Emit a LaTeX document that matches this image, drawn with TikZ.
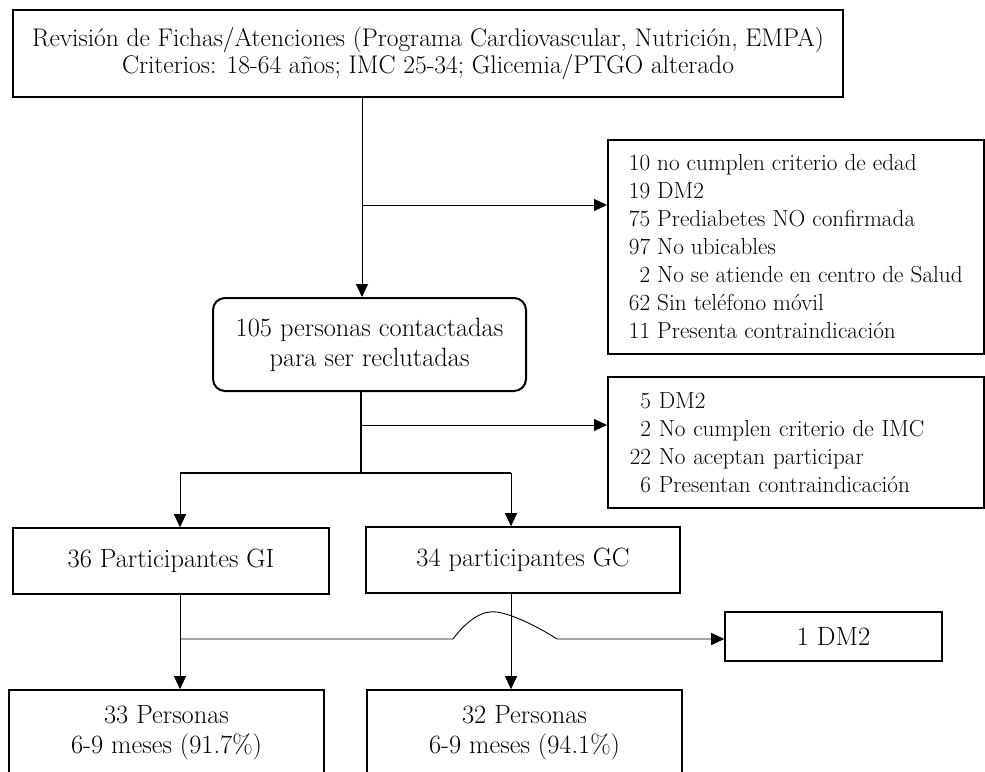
\documentclass[tikz,border=0pt]{standalone}
\usepackage{fontspec}
\usetikzlibrary{arrows.meta}
% font sizes (1pt = 1px of the figure)
\newcommand{\fsTop}{\fontsize{25.5}{27}\selectfont}
\newcommand{\fsLista}{\fontsize{23.2}{28}\selectfont}
\newcommand{\fsCaja}{\fontsize{26.4}{30}\selectfont}

\begin{document}
\begin{tikzpicture}[x=1pt,y=-1pt,
  caja/.style={draw,line width=1.6pt,inner sep=0pt,align=center,font=\fsCaja},
  lista/.style={draw,line width=1.6pt,inner ysep=0pt,inner xsep=22pt,align=left,anchor=north west,font=\fsLista},
  flecha/.style={-{Triangle[length=13pt,width=12pt]},line width=0.9pt},
  tallo/.style={line width=1.8pt}]
	% --- Page ---
	\useasboundingbox (0,0) rectangle (985,771);
	\clip (0,0) rectangle (985,771);
	% --- Boxes ---
	\node[caja,font=\fsTop,minimum width=830pt,minimum height=87pt] (fichas) at (428,53.5)
		{Revisión de Fichas/Atenciones (Programa Cardiovascular, Nutrición, EMPA)\\Criterios: 18-64 años; IMC 25-34; Glicemia/PTGO alterado};
	% list box: text block centred, lines flush left
	\node[lista,inner xsep=0pt,minimum width=376pt,minimum height=214pt] (excl1) at (607,139)
		{10 no cumplen criterio de edad\\19 DM2\\75 Prediabetes NO confirmada\\97 No ubicables\\\phantom{1}2 No se atiende en centro de Salud\\62 Sin teléfono móvil\\11 Presenta contraindicación};
	\node[caja,rounded corners=12pt,line width=2pt,minimum width=313pt,minimum height=93pt] (recl) at (369.5,344.5)
		{105 personas contactadas\\para ser reclutadas};
	\node[lista,minimum width=376pt,minimum height=131pt,text width=332pt] (excl2) at (607,376)
		{\phantom{2}5 DM2\\\phantom{2}2 No cumplen criterio de IMC\\22 No aceptan participar\\\phantom{2}6 Presentan contraindicación};
	\node[caja,minimum width=316pt,minimum height=66pt] (gi) at (171,561) {36 Participantes GI};
	\node[caja,minimum width=314pt,minimum height=66pt] (gc) at (523,560) {34 participantes GC};
	\node[caja,minimum width=217pt,minimum height=49pt] (dm) at (833.5,636.5) {1 DM2};
	\node[caja,minimum width=315pt,minimum height=85pt] (fin1) at (166.5,732.5) {33 Personas\\6-9 meses (91.7\%)};
	\node[caja,minimum width=315pt,minimum height=85pt] (fin2) at (524.5,732.5) {32 Personas\\6-9 meses (94.1\%)};
	% --- Branch points ---
	\coordinate (tronco) at (362,0);
	\coordinate (rama1) at (362,205);
	\coordinate (rama2) at (361,425);
	\coordinate (div) at (361,473);
	\coordinate (divI) at (180,473);
	\coordinate (divC) at (511,473);
	\coordinate (salto) at (180,639);
	% --- Connectors ---
	\draw[flecha] (tronco |- fichas.south) -- (tronco |- recl.north);
	\draw[flecha] (rama1) -- (rama1 -| excl1.west);
	\draw[tallo] (rama2 |- recl.south) -- (div);
	\draw[flecha] (rama2) -- (rama2 -| excl2.west);
	\draw[tallo] (divI) -- (divC);
	\draw[flecha] (divI) -- (divI |- gi.north);
	\draw[flecha] (divC) -- (divC |- gc.north);
	\draw[flecha] (divI |- gi.south) -- (divI |- fin1.north);
	\draw[flecha] (divC |- gc.south) -- (divC |- fin2.north);
	% jump over the GC line
	\draw[flecha] (salto) -- (453,639) .. controls (468,619) and (483,610) .. (497,612)
		.. controls (515,615) and (540,628) .. (557,639) -- (dm.west |- salto);
\end{tikzpicture}
\end{document}
